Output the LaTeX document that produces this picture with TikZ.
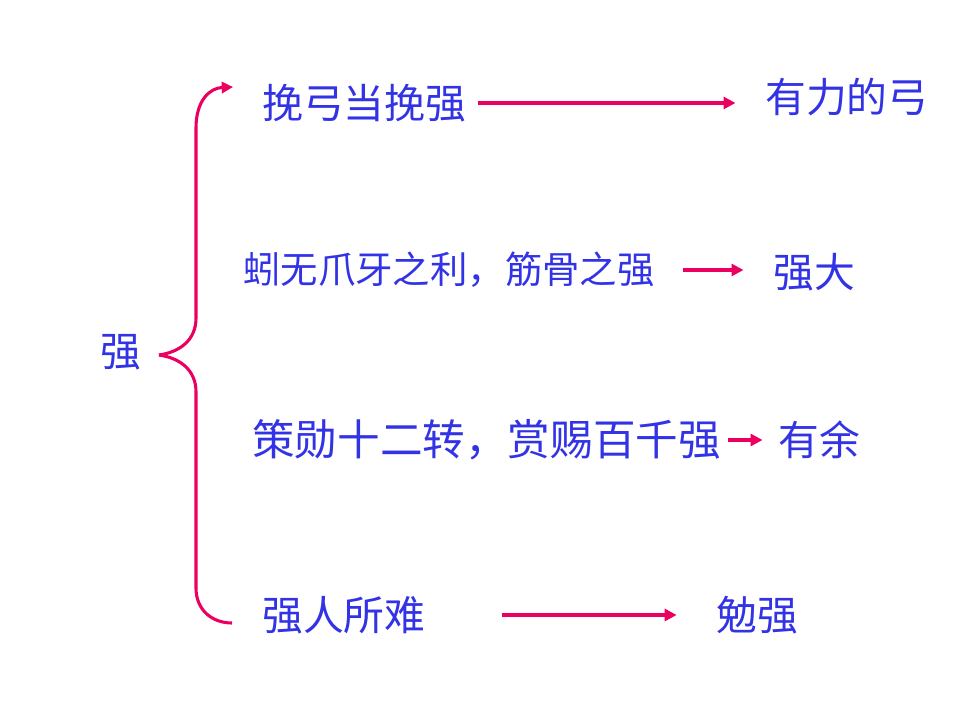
\documentclass[tikz,border=0pt]{standalone}
\usepackage{fontspec}
\setmainfont{Noto Sans CJK SC}
\usetikzlibrary{arrows.meta}
\definecolor{zhblue}{RGB}{51,51,230}
\definecolor{zhpink}{RGB}{235,0,95}
\tikzset{
  word/.style={text=zhblue, font=\fontsize{29}{32}\selectfont, inner sep=0pt, anchor=west},
  small/.style={font=\fontsize{26.6}{30}\selectfont},
  wide/.style={font=\fontsize{30.3}{34}\selectfont},
  link/.style={draw=zhpink, line width=2.8pt, -{Triangle[length=8.5pt,width=8.5pt]}},
  brace/.style={draw=zhpink, line width=2.2pt}
}
\begin{document}
\begin{tikzpicture}[x=0.025cm,y=-0.025cm]
  \useasboundingbox (0,0) rectangle (960,720);
  % the word and its four uses
  \node[word] (qiang) at (100,352) {强};
  \node[word] (use1) at (262,103) {挽弓当挽强};
  \node[word] (mean1) at (765,97) {有力的弓};
  \node[word,small] (use2) at (243,270) {蚓无爪牙之利，筋骨之强};
  \node[word] (mean2) at (773,272) {强大};
  \node[word,wide] (use3) at (252,440) {策勋十二转，赏赐百千强};
  \node[word] (mean3) at (778,440) {有余};
  \node[word] (use4) at (262,615) {强人所难};
  \node[word] (mean4) at (716,615) {勉强};
  % brace
  \coordinate (tip) at (159,355);
  \coordinate (top) at (233,87);
  \coordinate (bot) at (232,623);
  \draw[brace,-{Triangle[length=8pt,width=8pt]}] (tip)
    .. controls (180,352) and (196,340) .. (196,318)
    -- (196,128) .. controls (196,100) and (210,88) .. (top);
  \draw[brace] (tip) .. controls (180,358) and (196,370) .. (196,392)
    -- (196,588) .. controls (196,610) and (212,623) .. (bot);
  % arrows
  \draw[link, shorten <=8pt, shorten >=21pt] (use1.east) -- (use1.east -| mean1.west);
  \draw[link, shorten <=20pt, shorten >=21pt] (use2.east) -- (use2.east -| mean2.west);
  \draw[link, shorten <=5pt, shorten >=11pt] (use3.east) -- (mean3.west);
  \draw[link, shorten <=54pt, shorten >=28pt] (use4.east) -- (mean4.west);
\end{tikzpicture}
\end{document}
